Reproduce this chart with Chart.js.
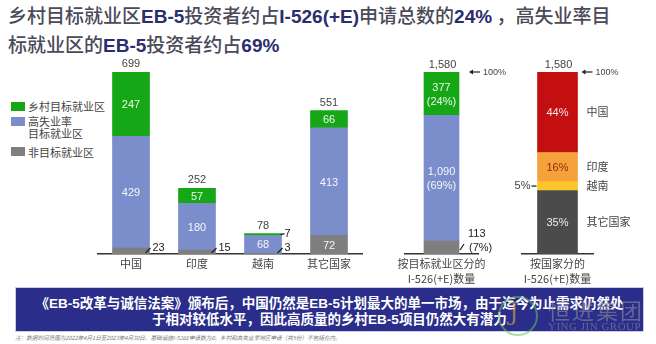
<!DOCTYPE html>
<html><head><meta charset="utf-8">
<script src="https://cdn.jsdelivr.net/npm/chart.js@4"></script>
<style>
body{margin:0;width:656px;height:344px;background:#fff;position:relative;overflow:hidden;font-family:"Noto Sans CJK SC","Liberation Sans",sans-serif;}
canvas.cv{position:absolute;left:0;top:0;}
#title{position:absolute;left:8px;top:1px;font-size:19px;line-height:27px;color:#4a4a58;white-space:nowrap;font-weight:500;}
#title b{font-family:"Liberation Sans",Arial,sans-serif;font-weight:bold;color:#2b2e6e;}
.lg{position:absolute;left:11px;width:14px;height:9px;}
.lt{position:absolute;left:28px;font-size:11px;line-height:12px;color:#444;white-space:nowrap;}
#banner{position:absolute;left:15px;top:287px;width:627px;height:36px;background:#2b2d8a;border:1px solid #c9cde6;color:#fff;font-weight:bold;font-size:13.5px;line-height:15px;text-align:center;padding-top:7px;box-sizing:content-box;white-space:nowrap;}
#banner b{font-family:"Liberation Sans",Arial,sans-serif;}
#foot{position:absolute;left:15px;top:334px;font-size:5.6px;font-style:italic;color:#777;white-space:nowrap;}
.wm{position:absolute;color:rgba(150,150,160,0.55);white-space:nowrap;}
</style></head>
<body>
<div id="title">乡村目标就业区<b>EB-5</b>投资者约占<b>I-526(+E)</b>申请总数的<b>24%</b> ，高失业率目<br>标就业区的<b>EB-5</b>投资者约占<b>69%</b></div>

<div class="lg" style="top:102px;background:#16a716"></div>
<div class="lt" style="top:100px">乡村目标就业区</div>
<div class="lg" style="top:117px;background:#7b8dca"></div>
<div class="lt" style="top:115px">高失业率<br>目标就业区</div>
<div class="lg" style="top:147px;background:#7f7f7f"></div>
<div class="lt" style="top:146px">非目标就业区</div>

<canvas id="c1" class="cv" width="656" height="300"></canvas>
<canvas id="c2" class="cv" width="656" height="300"></canvas>
<canvas id="c3" class="cv" width="656" height="300"></canvas>

<div id="banner">《<b>EB-5</b>改革与诚信法案》颁布后，中国仍然是<b>EB-5</b>计划最大的单一市场，由于迄今为止需求仍然处<br>于相对较低水平，因此高质量的乡村<b>EB-5</b>项目仍然大有潜力</div>
<div id="foot">注：数据时间范围为2022年4月1日至2023年4月30日。基础设施I-526E申请数为0。乡村和高失业率地区申请（共5份）不包括在内。</div>
<div class="wm" style="left:498px;top:296px;width:36px;height:36px;border:2px solid rgba(110,190,100,0.55);border-radius:50%;"></div>
<div class="wm" style="left:509px;top:298px;font-size:24px;font-family:'DejaVu Serif',serif;color:rgba(215,175,60,0.6)">J</div>
<div class="wm" style="left:548px;top:293px;font-size:22px;letter-spacing:2px;">恒进集团</div>
<div class="wm" style="left:548px;top:320px;font-size:11px;font-family:'Liberation Serif',serif;letter-spacing:0.5px;">YING JIN GROUP</div>

<script>
// ---- data ----
const countries = ['中国', '印度', '越南', '其它国家'];
const ruralTEA = [247, 57, 7, 66];
const highUnempTEA = [429, 180, 68, 413];
const nonTEA = [23, 15, 3, 72];
const countryTotals = [699, 252, 78, 551];

const teaCategory = [['按目标就业区分的', 'I-526(+E)数量']];
const teaLabels = ['乡村目标就业区', '高失业率目标就业区', '非目标就业区'];
const teaCounts = [377, 1090, 113];
const teaPct = ['(24%)', '(69%)', '(7%)'];

const countryCategory = [['按国家分的', 'I-526(+E)数量']];
const countryShareVals = [699, 252, 78, 551];
const countryPct = ['44%', '16%', '5%', '35%'];
const grandTotal = 1580;
const grandTotalLabel = '1,580';

const GREEN = '#16a716', BLUE = '#7b8dca', GREY = '#7f7f7f';
const RED = '#c30f0f', ORANGE = '#f6a23a', YELLOW = '#fcc52b', DARK = '#4b4b4b';
const TXT = '#444';
const FONT = '"Noto Sans CJK SC","Liberation Sans",sans-serif';
const NUMFONT = '"Liberation Sans",Arial,sans-serif';

function xAxis(h) {
  return {
    stacked: true,
    grid: { display: false, drawTicks: false },
    border: { display: true, color: '#333', width: 1.5 },
    ticks: { color: TXT, padding: 2, font: { size: 11, family: FONT, lineHeight: 1.4 }, maxRotation: 0, autoSkip: false },
    afterFit: s => { s.height = h; }
  };
}
function yAxis(max) {
  return { stacked: true, display: false, min: 0, max: max };
}
function fmt(n) { return n.toLocaleString('en-US'); }

function txt(ctx, s, x, y, color, align, size) {
  ctx.save();
  ctx.fillStyle = color;
  ctx.font = (size || 11) + 'px ' + NUMFONT;
  ctx.textAlign = align || 'center';
  ctx.textBaseline = 'middle';
  ctx.fillText(s, x, y);
  ctx.restore();
}
function line(ctx, x1, y1, x2, y2) {
  ctx.save();
  ctx.strokeStyle = '#222';
  ctx.lineWidth = 1.3;
  ctx.beginPath(); ctx.moveTo(x1, y1); ctx.lineTo(x2, y2); ctx.stroke();
  ctx.restore();
}
function arrow(ctx, x, y) {
  ctx.save();
  ctx.strokeStyle = '#222'; ctx.fillStyle = '#222'; ctx.lineWidth = 1.2;
  ctx.beginPath(); ctx.moveTo(x + 3, y); ctx.lineTo(x + 11, y); ctx.stroke();
  ctx.beginPath(); ctx.moveTo(x, y); ctx.lineTo(x + 4, y - 2.5); ctx.lineTo(x + 4, y + 2.5); ctx.closePath(); ctx.fill();
  ctx.restore();
  txt(ctx, '100%', x + 14, y + 1, TXT, 'left', 9);
}

// ---- chart 1: by country, split by TEA ----
const labelPlugin1 = {
  id: 'lbl1',
  afterDatasetsDraw(chart) {
    const ctx = chart.ctx;
    chart.data.datasets.forEach((ds, di) => {
      const meta = chart.getDatasetMeta(di);
      meta.data.forEach((bar, i) => {
        const v = ds.data[i];
        const h = Math.abs(bar.base - bar.y);
        const cy = (bar.y + bar.base) / 2;
        const right = bar.x + bar.width / 2;
        if (h >= 12) {
          txt(ctx, String(v), bar.x, cy + 1, 'rgba(255,255,255,0.92)');
        } else if (di === 0) {
          line(ctx, right - 4, bar.base - 1, right + 1, bar.base - 6);
          txt(ctx, String(v), right + 3, bar.base - 6, '#222', 'left');
        } else {
          line(ctx, right - 1, cy, right + 3, cy - 1);
          txt(ctx, String(v), right + 3, cy - 1, '#222', 'left');
        }
      });
    });
    const top = chart.getDatasetMeta(chart.data.datasets.length - 1);
    top.data.forEach((bar, i) => txt(ctx, String(countryTotals[i]), bar.x, bar.y - 8, TXT));
  }
};
new Chart(document.getElementById('c1'), {
  type: 'bar',
  data: {
    labels: countries,
    datasets: [
      { label: '非目标就业区', data: nonTEA, backgroundColor: GREY },
      { label: '高失业率目标就业区', data: highUnempTEA, backgroundColor: BLUE },
      { label: '乡村目标就业区', data: ruralTEA, backgroundColor: GREEN }
    ]
  },
  options: {
    responsive: false, animation: false,
    layout: { padding: { left: 98, right: 294, top: 72, bottom: 6 } },
    datasets: { bar: { barThickness: 37 } },
    plugins: { legend: { display: false }, tooltip: { enabled: false } },
    scales: { x: xAxis(40), y: yAxis(countryTotals[0]) }
  },
  plugins: [labelPlugin1]
});

// ---- chart 2: total by TEA type ----
const labelPlugin2 = {
  id: 'lbl2',
  afterDatasetsDraw(chart) {
    const ctx = chart.ctx;
    const map = [2, 1, 0];
    chart.data.datasets.forEach((ds, di) => {
      const bar = chart.getDatasetMeta(di).data[0];
      const k = map[di];
      const h = Math.abs(bar.base - bar.y);
      const cy = (bar.y + bar.base) / 2;
      const right = bar.x + bar.width / 2;
      if (h >= 20) {
        txt(ctx, fmt(teaCounts[k]), bar.x, cy - 6, 'rgba(255,255,255,0.92)');
        txt(ctx, teaPct[k], bar.x, cy + 8, 'rgba(255,255,255,0.92)');
      } else {
        line(ctx, right + 1, bar.base - 4, right + 5, bar.base - 10);
        txt(ctx, fmt(teaCounts[k]), right + 9, bar.base - 20, '#222', 'left');
        txt(ctx, teaPct[k], right + 10, bar.base - 6, '#222', 'left');
      }
    });
    const topBar = chart.getDatasetMeta(2).data[0];
    txt(ctx, grandTotalLabel, topBar.x + 1, topBar.y - 7, TXT);
    arrow(ctx, topBar.x + topBar.width / 2 + 10, topBar.y);
  }
};
new Chart(document.getElementById('c2'), {
  type: 'bar',
  data: {
    labels: teaCategory,
    datasets: [
      { label: teaLabels[2], data: [teaCounts[2]], backgroundColor: GREY },
      { label: teaLabels[1], data: [teaCounts[1]], backgroundColor: BLUE },
      { label: teaLabels[0], data: [teaCounts[0]], backgroundColor: GREEN }
    ]
  },
  options: {
    responsive: false, animation: false,
    layout: { padding: { left: 405, right: 178, top: 72, bottom: 6 } },
    datasets: { bar: { barThickness: 35 } },
    plugins: { legend: { display: false }, tooltip: { enabled: false } },
    scales: { x: xAxis(40), y: yAxis(grandTotal) }
  },
  plugins: [labelPlugin2]
});

// ---- chart 3: total by country ----
const labelPlugin3 = {
  id: 'lbl3',
  afterDatasetsDraw(chart) {
    const ctx = chart.ctx;
    const map = [3, 2, 1, 0];
    chart.data.datasets.forEach((ds, di) => {
      const bar = chart.getDatasetMeta(di).data[0];
      const k = map[di];
      const h = Math.abs(bar.base - bar.y);
      const cy = (bar.y + bar.base) / 2;
      const left = bar.x - bar.width / 2;
      const right = bar.x + bar.width / 2;
      if (h >= 14) {
        txt(ctx, countryPct[k], bar.x, cy + 1, k === 1 ? '#8a2c0c' : 'rgba(255,255,255,0.9)');
      } else {
        line(ctx, left - 6, cy, left - 1, cy);
        txt(ctx, countryPct[k], left - 7, cy, TXT, 'right');
      }
      ctx.save();
      ctx.fillStyle = TXT;
      ctx.font = '11px ' + FONT;
      ctx.textAlign = 'left'; ctx.textBaseline = 'middle';
      ctx.fillText(countries[k], right + 9, cy);
      ctx.restore();
    });
    const topBar = chart.getDatasetMeta(3).data[0];
    txt(ctx, grandTotalLabel, topBar.x + 1, topBar.y - 7, TXT);
    arrow(ctx, topBar.x + topBar.width / 2 + 4, topBar.y);
  }
};
new Chart(document.getElementById('c3'), {
  type: 'bar',
  data: {
    labels: countryCategory,
    datasets: [
      { label: countries[3], data: [countryShareVals[3]], backgroundColor: DARK },
      { label: countries[2], data: [countryShareVals[2]], backgroundColor: YELLOW },
      { label: countries[1], data: [countryShareVals[1]], backgroundColor: ORANGE },
      { label: countries[0], data: [countryShareVals[0]], backgroundColor: RED }
    ]
  },
  options: {
    responsive: false, animation: false,
    layout: { padding: { left: 522, right: 63, top: 72, bottom: 6 } },
    datasets: { bar: { barThickness: 40 } },
    plugins: { legend: { display: false }, tooltip: { enabled: false } },
    scales: { x: xAxis(40), y: yAxis(grandTotal) }
  },
  plugins: [labelPlugin3]
});
</script>
</body></html>
